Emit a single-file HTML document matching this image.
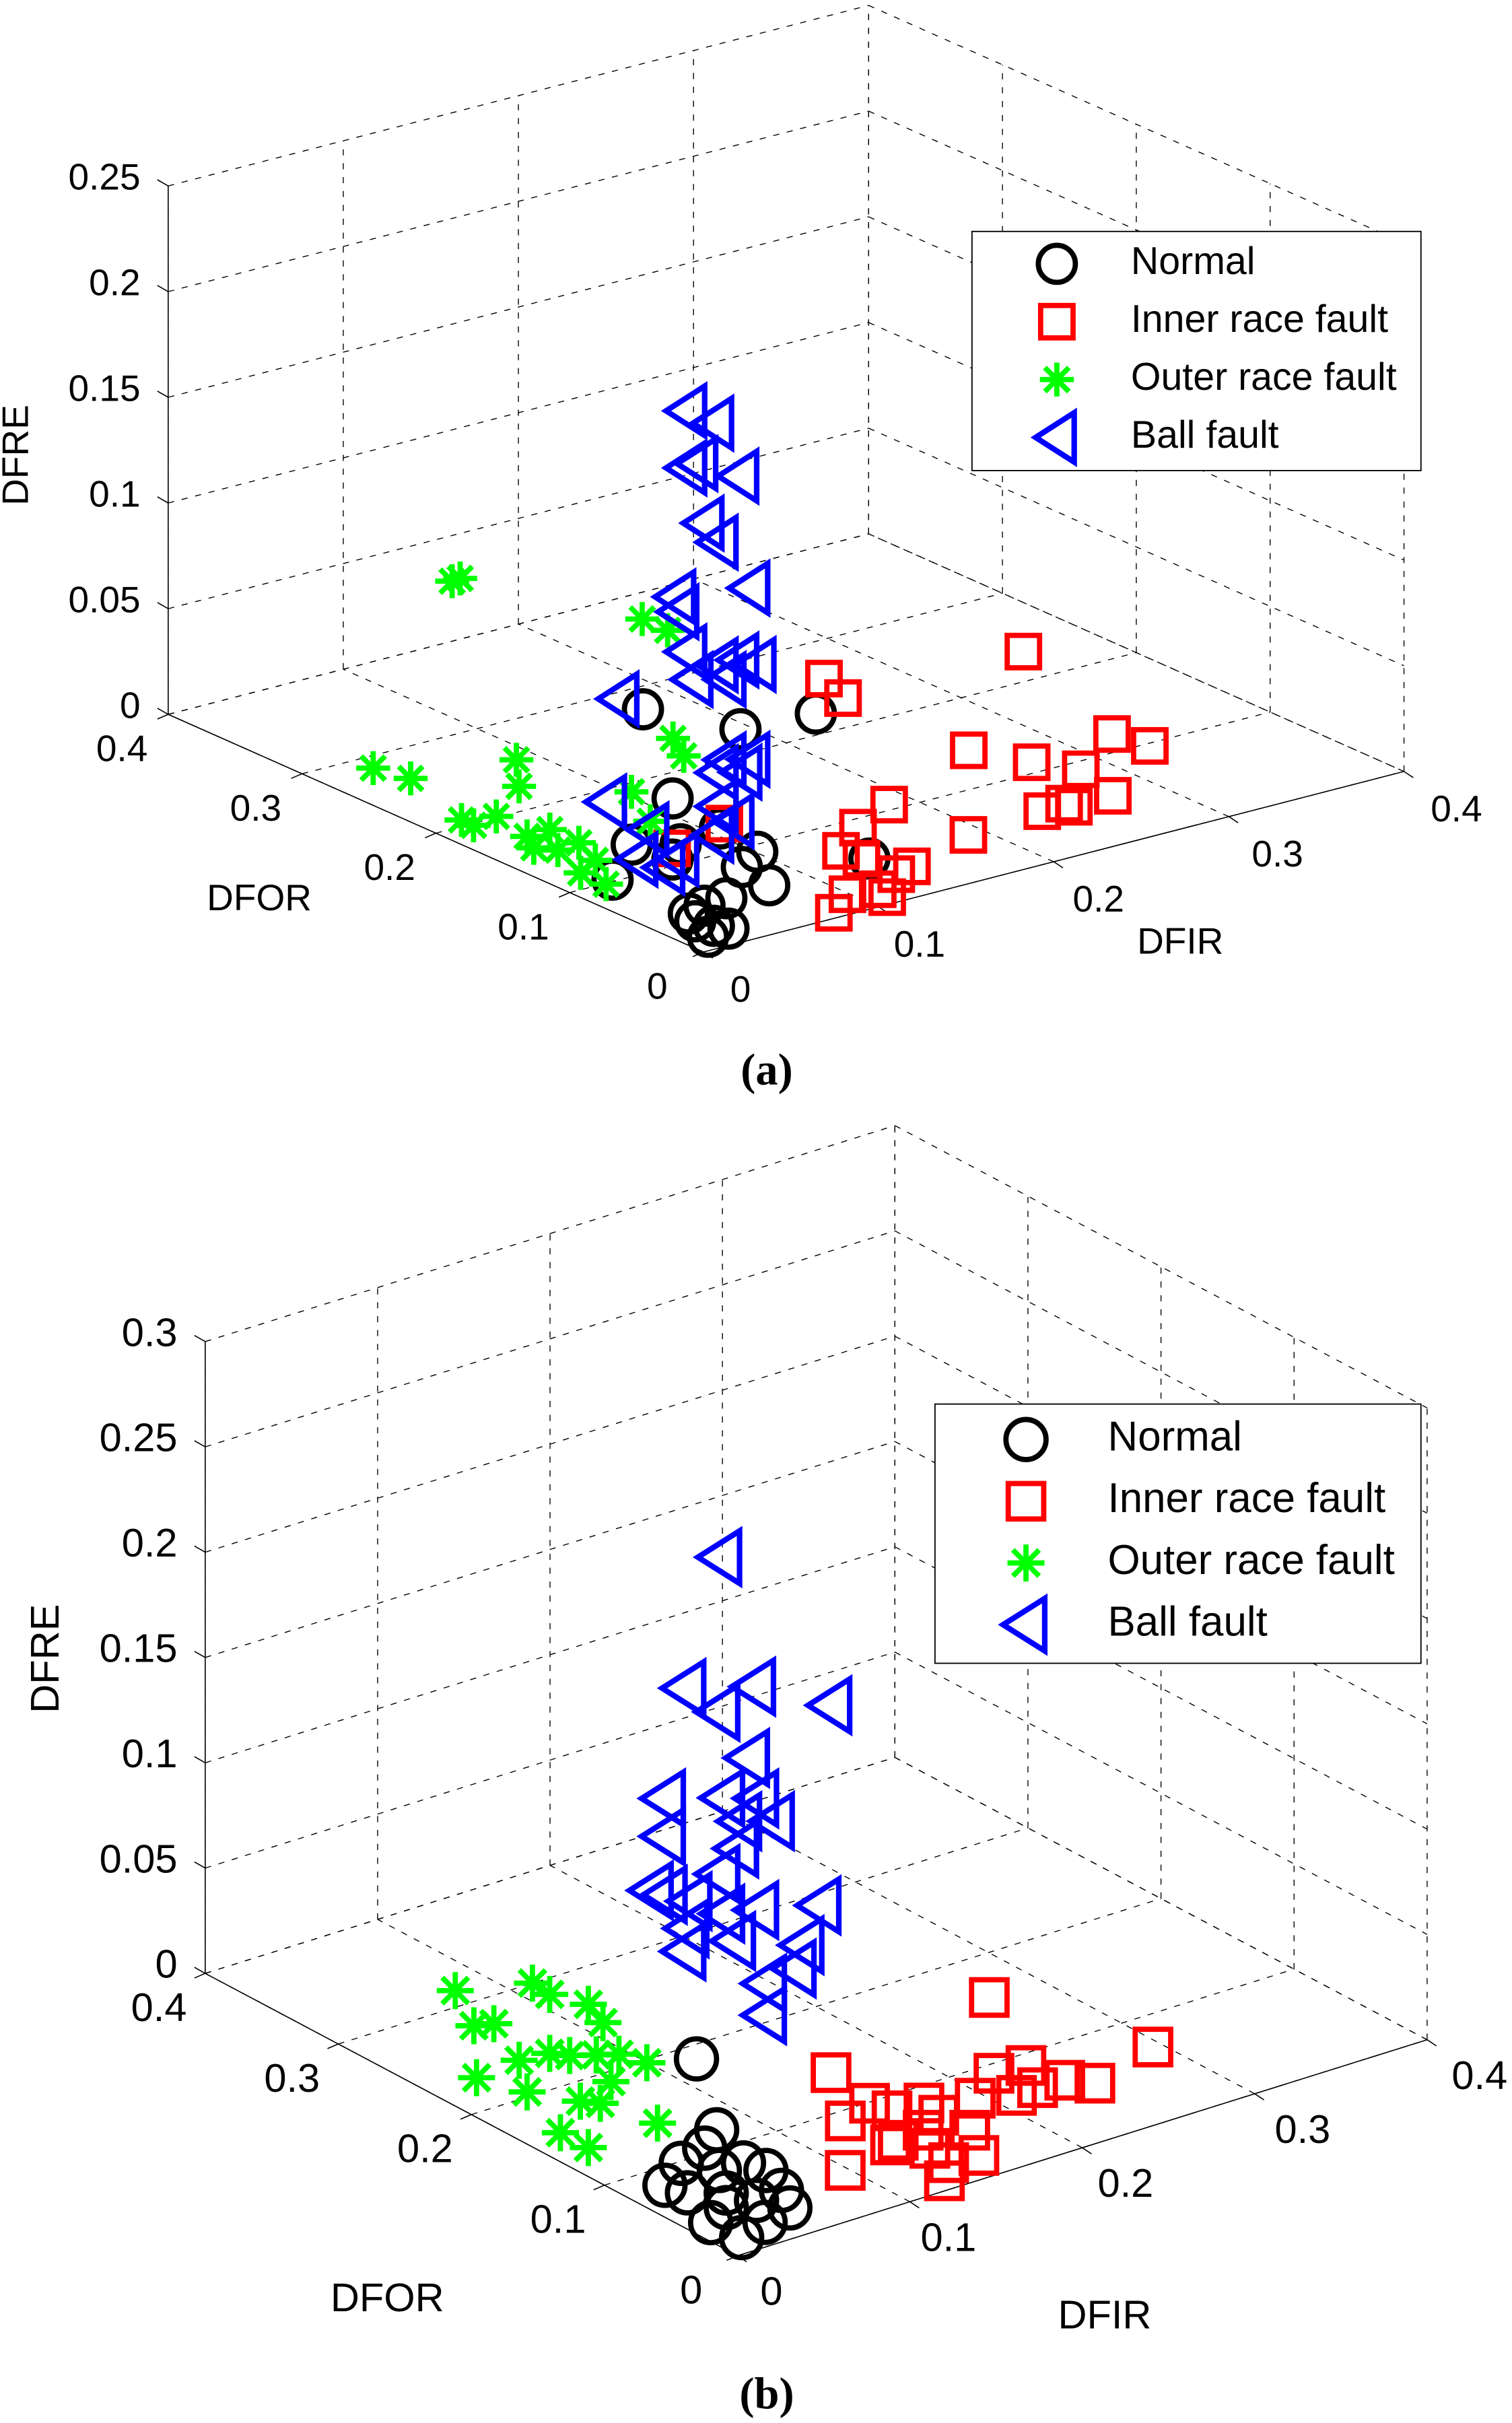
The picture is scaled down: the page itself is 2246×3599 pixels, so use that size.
<!DOCTYPE html>
<html><head><meta charset="utf-8"><style>
html,body{margin:0;padding:0;background:#fff;}
svg{display:block;}
text{font-family:"Liberation Sans",sans-serif;}
text.cap{font-family:"Liberation Serif",serif;font-weight:bold;}
</style></head><body>
<svg id="fig" xmlns="http://www.w3.org/2000/svg" width="2246" height="3599" viewBox="0 0 980 1570.4">
<rect x="0" y="0" width="980" height="1570.4" fill="#fff"/>
<g id="plotA"></g>
<g id="plotB"></g>
<text class="cap" x="497" y="703" text-anchor="middle" font-size="29">(a)</text>
<text class="cap" x="497" y="1561" text-anchor="middle" font-size="29">(b)</text>
</svg>
<script>
// ---------- data (DFIR, DFOR, DFRE) ----------
const aNormalIR=[0.038,0.057,0.097,0.045,0.027,0.026,0.045,0.072,0.101,0.078,0.083,0.052,0.038,0.022,0.025,0.028,0.014,0.026,0.136,0.064];
const aNormalOR=[0.095,0.047,0.043,0.082,0.089,0.102,0.076,0.082,0.092,0.053,0.080,0.051,0.049,0.035,0.025,0.018,0.015,0.045,0.054,0.107];
const aNormalRE=[0.08,0.08,0.08,0.04,0.02,0,0.02,0.02,0,0,0,0,0,0,0,0,0,0,0,0];
const aInnerIR=[0.260,0.273,0.285,0.325,0.329,0.275,0.251,0.237,0.252,0.191,0.187,0.132,0.133,0.157,0.145,0.133,0.111,0.099,0.079,0.114,0.073,0.112,0.188,0.094,0.085];
const aInnerOR=[0.142,0.112,0.091,0.120,0.097,0.054,0.059,0.057,0.053,0.052,0.106,0.070,0.056,0.090,0.034,0.030,0.008,0.022,0.006,0.019,0.119,0.131,0.007,0.033,0.007];
const aInnerRE=[0,0,0,0,0,0,0,0,0,0,0,0,0,0,0,0,0,0,0,0,0,0,0.1,0.1,0.1];
const aOuterIR=[0.02,0.02,0.02,0.02,0.02,0.02,0.02,0.02,0.02,0.02,0.02,0.02,0.02,0.02,0.02,0.02,0.02,0.02,0.006,0.02,0.02,0.02,0.02];
const aOuterOR=[0.214,0.208,0.072,0.053,0.049,0.041,0.273,0.245,0.166,0.164,0.207,0.198,0.181,0.158,0.141,0.135,0.153,0.099,0.101,0.107,0.080,0.066,0.118];
const aOuterRE=[0.111,0.114,0.133,0.133,0.083,0.077,0.006,0.009,0.040,0.028,0,0,0.009,0.006,0.014,0.006,0.002,0,0.022,0.009,0.049,0.039,0];
const aBallIR=[0.032,0.042,0.032,0.036,0.051,0.038,0.043,0.055,0.028,0.029,0.032,0.043,0.051,0.057,0.034,0.046,0.007,0.046,0.055,0.043,0.052,0.003,0.018,0.029,0.042,0.049,0.024,0.043,0.014];
const aBallOR=[0.054,0.047,0.054,0.051,0.040,0.049,0.045,0.037,0.057,0.056,0.054,0.045,0.040,0.035,0.052,0.043,0.072,0.043,0.037,0.045,0.039,0.076,0.064,0.056,0.047,0.041,0.060,0.045,0.067];
const aBallRE=[0.234,0.228,0.207,0.209,0.203,0.181,0.172,0.150,0.146,0.139,0.120,0.114,0.116,0.114,0.107,0.107,0.098,0.069,0.069,0.063,0.063,0.049,0.036,0.022,0.033,0.040,0.018,0.047,0.022];

const bNormalIR=[0.048,0.079,0.062,0.043,0.022,0.025,0.052,0.066,0.069,0.061,0.045,0.029,0.013,0.014,0.033,0.039,0.052];
const bNormalOR=[0.093,0.118,0.105,0.098,0.083,0.070,0.081,0.081,0.068,0.046,0.044,0.046,0.037,0.015,0.022,0.059,0.028];
const bNormalRE=[0.05,0,0,0,0,0,0,0,0,0,0,0,0,0,0,0,0];
const bInnerIR=[0.197,0.295,0.160,0.153,0.132,0.156,0.173,0.170,0.195,0.219,0.236,0.225,0.212,0.240,0.249,0.138,0.144,0.141,0.157,0.098,0.132,0.127,0.154,0.171];
const bInnerOR=[0.066,0.070,0.137,0.099,0.090,0.086,0.084,0.069,0.074,0.091,0.089,0.066,0.065,0.065,0.054,0.058,0.042,0.024,0.022,0.046,0.056,0.009,0.060,0.047];
const bInnerRE=[0.05,0,0,0,0,0,0,0,0,0,0,0,0,0,0,0,0,0,0,0,0,0,0,0];
const bOuterIR=[0.02,0.02,0.02,0.02,0.02,0.02,0.02,0.02,0.02,0.02,0.02,0.02,0.02,0.02,0.02,0.02,0.02,0.02,0.02,0.02,0.02];
const bOuterOR=[0.238,0.224,0.209,0.180,0.167,0.138,0.127,0.222,0.184,0.190,0.167,0.152,0.132,0.115,0.094,0.121,0.129,0.086,0.159,0.138,0.144];
const bOuterRE=[0.041,0.029,0.035,0.064,0.063,0.068,0.063,0.005,0.011,0.024,0.035,0.039,0.046,0.052,0.055,0.037,0.024,0.029,0,0,0.020];
const bBallIR=[0.076,0.012,0.024,0.037,0.065,0.035,0.004,0.026,0.038,0.032,0.044,0.004,0.031,0.024,0.005,0.014,0.026,0.038,0.061,0.013,0.030,0.012,0.055,0.052,0.041,0.041,0.000];
const bBallOR=[0.111,0.055,0.045,0.035,0.014,0.037,0.060,0.044,0.034,0.039,0.030,0.060,0.040,0.045,0.060,0.053,0.044,0.034,0.017,0.054,0.041,0.055,0.022,0.024,0.032,0.032,0.064];
const bBallRE=[0.275,0.248,0.237,0.249,0.240,0.215,0.196,0.196,0.196,0.185,0.185,0.178,0.172,0.160,0.150,0.147,0.141,0.143,0.145,0.134,0.128,0.123,0.126,0.115,0.108,0.093,0.152];

const xyTicks=[0,0.1,0.2,0.3,0.4];
const xyTickLabels=["0","0.1","0.2","0.3","0.4"];
const aZTicks=[0,0.05,0.1,0.15,0.2,0.25];
const aZTickLabels=["0","0.05","0.1","0.15","0.2","0.25"];
const bZTicks=[0,0.05,0.1,0.15,0.2,0.25,0.3];
const bZTickLabels=["0","0.05","0.1","0.15","0.2","0.25","0.3"];
const legendLabels=["Normal","Inner race fault","Outer race fault","Ball fault"];

const NS="http://www.w3.org/2000/svg";
function mk(parent,tag,attrs){const e=document.createElementNS(NS,tag);for(const k in attrs)e.setAttribute(k,attrs[k]);parent.appendChild(e);return e;}

function drawPlot(g,cfg){
  const P=(x,y,z)=>[cfg.o[0]+x*cfg.u[0]+y*cfg.v[0], cfg.o[1]+x*cfg.u[1]+y*cfg.v[1]+z*cfg.w];
  const xm=0.4,ym=0.4,zm=cfg.zTicks[cfg.zTicks.length-1];
  const grid=mk(g,'g',{stroke:'#000','stroke-width':0.6,'stroke-dasharray':'4 5',fill:'none'});
  
  
  const L=(a,b)=>mk(grid,'line',{x1:a[0],y1:a[1],x2:b[0],y2:b[1]});
  xyTicks.forEach(t=>{
    L(P(t,0,0),P(t,ym,0)); L(P(t,ym,0),P(t,ym,zm));
    L(P(0,t,0),P(xm,t,0)); L(P(xm,t,0),P(xm,t,zm));
  });
  cfg.zTicks.forEach(t=>{L(P(0,ym,t),P(xm,ym,t)); L(P(xm,ym,t),P(xm,0,t));});
  const ax=mk(g,'g',{stroke:'#000','stroke-width':0.7,fill:'none'});
  
  
  const A=(a,b)=>mk(ax,'line',{x1:a[0],y1:a[1],x2:b[0],y2:b[1]});
  A(P(0,0,0),P(xm,0,0)); A(P(0,0,0),P(0,ym,0)); A(P(0,ym,0),P(0,ym,zm));
  xyTicks.forEach(t=>{const p=P(t,0,0);A(p,[p[0]+6,p[1]+4]);const q=P(0,t,0);A(q,[q[0]-7,q[1]+3]);});
  cfg.zTicks.forEach(t=>{const p=P(0,ym,t);A(p,[p[0]-7,p[1]-4]);});
  const lab=mk(g,'g',{'font-size':cfg.fs,fill:'#000'});
  
  
  xyTicks.forEach((t,i)=>{
    const p=P(t,0,0);
    const e=mk(lab,'text',{x:p[0]+cfg.xOff[0]+t*cfg.xOff[2],y:p[1]+cfg.xOff[1],'text-anchor':'middle','dominant-baseline':'middle'});
    e.textContent=xyTickLabels[i];
    
    
    const q=P(0,t,0);
    const f=mk(lab,'text',{x:q[0]+cfg.yOff[0],y:q[1]+cfg.yOff[1],'text-anchor':'middle','dominant-baseline':'middle'});
    f.textContent=xyTickLabels[i];
    
    
  });
  cfg.zTicks.forEach((t,i)=>{
    const p=P(0,ym,t);
    const e=mk(lab,'text',{x:p[0]-18,y:p[1]-4,'text-anchor':'end','dominant-baseline':'middle'});
    e.textContent=cfg.zLabels[i];
    
    
  });
  const t1=mk(g,'text',{x:cfg.zt[0],y:cfg.zt[1],'font-size':cfg.fs,'text-anchor':'middle',transform:`rotate(-90 ${cfg.zt[0]} ${cfg.zt[1]})`});
  t1.textContent='DFRE';
  const t2=mk(g,'text',{x:cfg.yt[0],y:cfg.yt[1],'font-size':cfg.fs,'text-anchor':'middle'});
  t2.textContent='DFOR';
  const t3=mk(g,'text',{x:cfg.xt[0],y:cfg.xt[1],'font-size':cfg.fs,'text-anchor':'middle'});
  t3.textContent='DFIR';

  const m=cfg.m;
  function marker(par,kind,x,y){
    if(kind===0) return mk(par,'circle',{cx:x,cy:y,r:m.r,fill:'none',stroke:'#000','stroke-width':3.4});
    if(kind===1) return mk(par,'rect',{x:x-m.s/2,y:y-m.s/2,width:m.s,height:m.s,fill:'none',stroke:'#f00','stroke-width':3.4});
    if(kind===2){const gg=mk(par,'g',{stroke:'#0f0','stroke-width':3.4});const r=m.a;
      [[0,1],[1,0],[0.707,0.707],[0.707,-0.707]].forEach(d=>mk(gg,'line',{x1:x-d[0]*r,y1:y-d[1]*r,x2:x+d[0]*r,y2:y+d[1]*r}));return gg;}
    return mk(par,'polygon',{points:`${x-m.tw*0.55},${y} ${x+m.tw*0.45},${y-m.th/2} ${x+m.tw*0.45},${y+m.th/2}`,fill:'none',stroke:'#00f','stroke-width':3.6,'stroke-linejoin':'miter'});
  }
  const names=['normal-point','inner-race-point','outer-race-point','ball-fault-point'];
  const sers=['normal-series','inner-race-series','outer-race-series','ball-fault-series'];
  cfg.series.forEach((s,k)=>{
    const sg=mk(g,'g',{});
    
    
    s[0].forEach((xv,i)=>{const p=P(xv,s[1][i],s[2][i]);const e=marker(sg,k,p[0],p[1]);
      
      });
  });
  const lg=mk(g,'g',{});
  
  
  const b=cfg.leg;
  mk(lg,'rect',{x:b.x,y:b.y,width:b.w,height:b.h,fill:'#fff',stroke:'#000','stroke-width':0.8});
  legendLabels.forEach((txt,i)=>{
    const yy=b.y+b.first+i*b.step;
    const e=marker(lg,i,b.mx,yy);
    
    
    const t=mk(lg,'text',{x:b.tx,y:yy,'font-size':b.fs,'dominant-baseline':'middle'});
    t.textContent=txt;
    
    
  });
}

drawPlot(document.getElementById('plotA'),{
  o:[456,617],u:[454/0.4,-117/0.4],v:[-347/0.4,-154/0.4],w:-1370,
  zTicks:aZTicks,zLabels:aZTickLabels,fs:24,
  xOff:[24,26,25],yOff:[-30,24],
  zt:[18,295],yt:[168,590],xt:[765,618],
  m:{r:12,s:21,a:11,tw:25,th:32},
  series:[[aNormalIR,aNormalOR,aNormalRE],[aInnerIR,aInnerOR,aInnerRE],[aOuterIR,aOuterOR,aOuterRE],[aBallIR,aBallOR,aBallRE]],
  leg:{x:630,y:150,w:291,h:155,first:21,step:37.5,mx:685,tx:733,fs:25}
});
drawPlot(document.getElementById('plotB'),{
  o:[478,1462],u:[447/0.4,-140/0.4],v:[-345/0.4,-183/0.4],w:-1365,
  zTicks:bZTicks,zLabels:bZTickLabels,fs:26,
  xOff:[22,25,30],yOff:[-30,24],
  zt:[38,1075],yt:[251,1498],xt:[716,1509],
  m:{r:13,s:23,a:12,tw:27,th:34},
  series:[[bNormalIR,bNormalOR,bNormalRE],[bInnerIR,bInnerOR,bInnerRE],[bOuterIR,bOuterOR,bOuterRE],[bBallIR,bBallOR,bBallRE]],
  leg:{x:606,y:910,w:315,h:168,first:23,step:40,mx:665,tx:718,fs:27}
});
</script>
</body></html>
